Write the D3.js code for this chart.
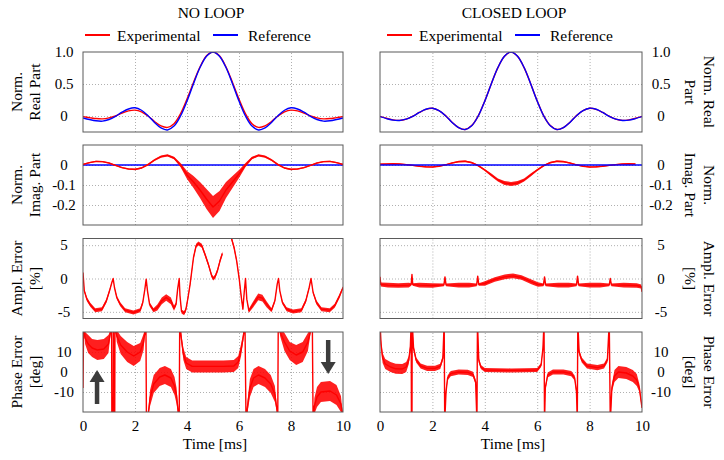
<!DOCTYPE html>
<html><head><meta charset="utf-8">
<script src="https://cdn.jsdelivr.net/npm/d3@7"></script>
<style>
body{margin:0;background:#fff;}
svg text{font-family:"Liberation Serif","Times New Roman",serif;fill:#000;}
</style></head><body>
<svg id="c" width="724" height="460"></svg>
<script>
// ---------- DATA ----------
const columns = ["NO LOOP", "CLOSED LOOP"];
const legendLabels = ["Experimental", "Reference"];
const xTicks = [0, 2, 4, 6, 8, 10];
const yTicksReal = [0, 0.5, 1.0];
const yTicksImag = [0, -0.1, -0.2];
const yTicksAmpl = [5, 0, -5];
const yTicksPhase = [10, 0, -10];
const titlesLeft = [["Norm.", "Real Part"], ["Norm.", "Imag. Part"], ["Ampl. Error", "[%]"], ["Phase Error", "[deg]"]];
const titlesRight = [["Norm. Real", "Part"], ["Norm.", "Imag. Part"], ["Ampl. Error", "[%]"], ["Phase Error", "[deg]"]];

// time grid (ms) for real / imaginary parts
const T = [0,0.25,0.5,0.75,1,1.25,1.5,1.75,2,2.25,2.5,2.75,3,3.25,3.5,3.75,4,4.25,4.5,4.75,5,5.25,5.5,5.75,6,6.25,6.5,6.75,7,7.25,7.5,7.75,8,8.25,8.5,8.75,9,9.25,9.5,9.75,10];

const realRefNL = [-0.03,-0.055,-0.075,-0.08,-0.055,-0.005,0.06,0.11,0.128,0.09,0.005,-0.1,-0.187,-0.218,-0.158,0,0.234,0.505,0.757,0.935,1.0,0.935,0.757,0.505,0.234,0,-0.158,-0.218,-0.187,-0.1,0.005,0.09,0.128,0.11,0.06,-0.005,-0.055,-0.08,-0.075,-0.055,-0.03];
const realExpNL = [-0.01,-0.025,-0.04,-0.045,-0.03,0.0,0.045,0.08,0.092,0.065,0.0,-0.085,-0.155,-0.178,-0.12,0.035,0.265,0.525,0.765,0.94,1.0,0.94,0.765,0.525,0.265,0.035,-0.12,-0.178,-0.155,-0.085,0.0,0.065,0.092,0.08,0.045,0.0,-0.03,-0.045,-0.04,-0.025,-0.01];
const realRefCL = [-0.01,-0.04,-0.065,-0.07,-0.05,-0.005,0.055,0.105,0.122,0.085,0.005,-0.1,-0.182,-0.212,-0.152,0,0.234,0.505,0.757,0.935,1.0,0.935,0.757,0.505,0.234,0,-0.152,-0.212,-0.182,-0.1,0.005,0.085,0.122,0.105,0.055,-0.005,-0.05,-0.07,-0.065,-0.04,-0.01];
const realExpCL = [-0.005,-0.035,-0.06,-0.068,-0.048,-0.003,0.055,0.103,0.12,0.084,0.006,-0.098,-0.18,-0.21,-0.15,0.002,0.236,0.505,0.755,0.933,0.998,0.933,0.755,0.505,0.236,0.002,-0.15,-0.21,-0.18,-0.098,0.006,0.084,0.12,0.103,0.055,-0.003,-0.048,-0.068,-0.06,-0.035,-0.005];

const imagRefT = [0, 10];
const imagRefV = [0, 0];
const imagExpNL = [0.003,0.012,0.018,0.017,0.01,-0.002,-0.013,-0.02,-0.022,-0.015,0.002,0.025,0.042,0.048,0.035,0.0,-0.05,-0.085,-0.125,-0.17,-0.21,-0.18,-0.125,-0.085,-0.045,0.0,0.035,0.048,0.042,0.025,0.002,-0.015,-0.022,-0.02,-0.013,-0.002,0.01,0.017,0.018,0.012,0.003];
const imagNoiseNL = [0.003,0.003,0.003,0.003,0.003,0.003,0.003,0.003,0.004,0.004,0.004,0.005,0.006,0.006,0.006,0.01,0.02,0.03,0.04,0.05,0.055,0.05,0.04,0.03,0.02,0.01,0.006,0.006,0.006,0.005,0.004,0.004,0.004,0.003,0.003,0.003,0.003,0.003,0.003,0.003,0.003];
const imagExpCL = [0.004,0.005,0.006,0.005,0.002,-0.002,-0.006,-0.009,-0.01,-0.006,0.001,0.01,0.017,0.019,0.012,-0.003,-0.025,-0.05,-0.075,-0.09,-0.095,-0.09,-0.075,-0.05,-0.025,-0.003,0.012,0.019,0.017,0.01,0.001,-0.006,-0.01,-0.009,-0.006,-0.002,0.002,0.005,0.006,0.005,null];
const imagNoiseCL = [0.003,0.003,0.003,0.003,0.003,0.003,0.003,0.003,0.003,0.003,0.003,0.003,0.004,0.004,0.004,0.004,0.005,0.007,0.008,0.01,0.01,0.01,0.008,0.007,0.005,0.004,0.004,0.004,0.004,0.003,0.003,0.003,0.003,0.003,0.003,0.003,0.003,0.003,0.003,0.003,0];

// amplitude error [%] : [t, value, noise half-width]
const amplNL = [[0,0.9,0],[0.05,-1.85,0.2],[0.15,-3.1,0.3],[0.28,-3.95,0.3],[0.47,-4.75,0.3],[0.73,-4.6,0.3],[0.9,-3.35,0.3],[1.02,-1.85,0.25],[1.11,-0.6,0.1],[1.16,0,0],[1.21,-1.35,0.1],[1.3,-2.85,0.25],[1.43,-3.85,0.3],[1.62,-4.75,0.3],[1.94,-5.1,0.3],[2.2,-4.75,0.3],[2.3,-3.6,0.3],[2.38,-1.6,0.1],[2.43,-0.1,0],[2.48,-1.85,0.1],[2.56,-3.85,0.3],[2.71,-4.75,0.3],[2.86,-4.35,0.45],[3.03,-3.35,0.5],[3.2,-2.85,0.5],[3.38,-3.35,0.5],[3.5,-4.45,0.4],[3.58,-3.85,0.3],[3.64,-1.6,0.1],[3.7,0,0],[3.73,-2.6,0.1],[3.79,-4.95,0.3],[3.89,-5.2,0.3],[3.96,-4.6,0.3],[4.04,-2.85,0.3],[4.12,-0.85,0.3],[4.25,3.15,0.3],[4.35,4.9,0.3],[4.44,5.25,0.3],[4.57,4.9,0.3],[4.69,3.65,0.3],[4.82,2.15,0.3],[4.95,0.4,0.3],[5.01,0,0.3],[5.08,0.25,0.3],[5.17,1.15,0.3],[5.27,2.65,0.3],[5.36,3.75,0.3],[5.41,null,0],[5.46,6.3,0.3],[5.55,6.8,0.3],[5.65,6.6,0.3],[5.72,5.9,0.3],[5.81,4.65,0.3],[5.91,2.65,0.3],[6.01,-0.1,0.3],[6.09,-2.85,0.3],[6.15,-4.6,0.2],[6.2,-2.1,0.1],[6.25,0,0],[6.3,-3.1,0.1],[6.38,-4.85,0.3],[6.55,-3.85,0.45],[6.74,-2.75,0.5],[6.9,-2.95,0.5],[7.06,-3.85,0.45],[7.25,-4.75,0.3],[7.38,-3.35,0.25],[7.47,-0.85,0.1],[7.52,0,0],[7.57,-1.85,0.1],[7.67,-3.6,0.25],[7.83,-4.6,0.3],[8.08,-4.95,0.3],[8.4,-4.75,0.3],[8.57,-3.35,0.3],[8.7,-1.35,0.2],[8.77,0,0],[8.85,-2.1,0.2],[8.98,-3.6,0.3],[9.17,-4.6,0.3],[9.49,-4.75,0.3],[9.68,-4.1,0.3],[9.87,-2.6,0.3],[10,-1.35,0.2]];
const amplCL = [[0,0.25,0],[0.03,-0.9,0.3],[0.3,-1.0,0.35],[0.7,-1.05,0.35],[1.1,-1.0,0.35],[1.19,-0.9,0.2],[1.22,0.6,0],[1.25,-0.9,0.2],[1.5,-1.0,0.35],[2.0,-1.05,0.35],[2.44,-0.95,0.2],[2.48,0.25,0],[2.52,-0.95,0.2],[3.0,-1.0,0.35],[3.4,-1.0,0.35],[3.69,-0.95,0.2],[3.73,0.35,0],[3.77,-0.9,0.2],[4.0,-0.75,0.35],[4.38,-0.15,0.35],[4.76,0.25,0.35],[5.08,0.4,0.35],[5.4,0.15,0.35],[5.78,-0.5,0.35],[6.03,-0.9,0.35],[6.24,-0.95,0.2],[6.28,0.25,0],[6.32,-0.95,0.2],[6.8,-1.0,0.35],[7.2,-1.0,0.35],[7.5,-0.95,0.2],[7.54,0.35,0],[7.58,-0.95,0.2],[8.0,-1.0,0.35],[8.4,-1.0,0.35],[8.75,-0.95,0.2],[8.79,0.0,0],[8.83,-0.95,0.2],[9.3,-1.0,0.35],[9.8,-1.05,0.35],[9.97,-1.2,0.3],[10,-2.0,0]];

// phase error [deg] : [t, value, noise half-width]
const phaseNL = [[0,-8,1],[0.025,25,0],[0.08,17,3],[0.2,14,4.5],[0.35,12,4.5],[0.55,11,5],[0.8,11.5,5],[0.98,14,4.5],[1.06,20,1],[1.1,25,0],[1.11,-25,0],[1.16,-25,0],[1.17,25,0],[1.19,-25,0],[1.22,-25,0],[1.23,25,0],[1.3,18,3],[1.45,13.5,4.5],[1.7,10,5],[1.95,8,5],[2.2,10,4.5],[2.33,15,4],[2.39,21,1],[2.42,25,0],[2.44,-25,0],[2.5,-22,1],[2.58,-13,4],[2.72,-6,4.5],[2.95,-2.5,4.5],[3.15,-1.5,4.5],[3.38,-3,4.5],[3.52,-7,4.5],[3.6,-12,4],[3.66,-20,1],[3.7,-25,0],[3.72,25,0],[3.78,17,2],[3.86,9,3],[3.97,4.5,3],[4.2,2.8,3],[4.6,2.8,3],[5.0,2.8,3],[5.4,2.8,3],[5.8,3,3],[5.97,5,3],[6.08,11,3],[6.17,18,2],[6.23,25,0],[6.27,-25,0],[6.33,-17,3],[6.42,-8,4.5],[6.56,-3,4.5],[6.75,-1.5,4.5],[7.0,-3,4.5],[7.22,-6,4.5],[7.38,-11,4],[7.46,-19,1],[7.49,-25,0],[7.51,25,0],[7.58,20,2],[7.75,15,4.5],[7.95,10.5,4.5],[8.2,8.5,5],[8.45,10,5],[8.65,15,4.5],[8.76,21,1],[8.82,25,0],[8.85,-25,0],[8.9,-17,4],[9.0,-12.5,5],[9.15,-10,5],[9.5,-9.5,5],[9.75,-11.5,5],[9.92,-16,4],[10,-22,0]];
const phaseCL = [[0,25,0],[0.04,14,2],[0.1,7,2.5],[0.2,4,2.5],[0.4,2.5,2.5],[0.6,1.6,2.5],[0.85,1.5,2.5],[1.0,2.5,2.5],[1.1,6,2],[1.16,13,1],[1.19,25,0],[1.2,-25,0],[1.22,-25,0],[1.23,25,0],[1.28,12,1.3],[1.38,6,1.3],[1.55,3,1.3],[1.8,1.8,1.3],[2.1,1.8,1.3],[2.3,2.8,1.3],[2.4,7,1.3],[2.45,25,0],[2.47,-25,0],[2.52,-10,1.3],[2.58,-3,1.3],[2.7,-0.8,1.3],[3.0,0,1.3],[3.35,-0.2,1.3],[3.55,-1.2,1.3],[3.65,-5,1.3],[3.7,-25,0],[3.72,25,0],[3.77,6,1.3],[3.85,2.5,1],[4.0,1.0,1],[5.0,0.8,1],[6.0,1.0,1],[6.15,3.5,1],[6.22,12,1],[6.26,25,0],[6.28,-25,0],[6.31,-8,1.3],[6.4,-1.5,1.3],[6.6,0,1.3],[7.0,0,1.3],[7.3,-0.8,1.3],[7.43,-3,1.3],[7.5,-10,1.3],[7.53,-25,0],[7.55,25,0],[7.6,10,1.3],[7.7,6,1.3],[7.9,3,1.3],[8.3,2.2,1.3],[8.55,3,1.3],[8.68,6,1.3],[8.75,25,0],[8.79,-25,0],[8.85,-8,2],[8.95,-2,3],[9.1,0,3],[9.4,-0.5,3],[9.65,-2,3],[9.8,-4,3],[9.9,-8,2],[9.97,-15,1],[10,-18,0]];

// arrows in NO LOOP phase panel: [t, from, to] (deg)
const arrowsNL = [[0.54, -16, 1], [9.43, 16, -1]];

// ---------- LAYOUT / STYLE ----------
const RED = "#ff0000", BLUE = "#0000ff";
const cols = [{x0: 83, x1: 343}, {x0: 380, x1: 642}];
const rowTop = [52, 145, 238.5, 332], rowH = 80;
const domains = [[-0.25, 1.0], [-0.3, 0.1], [-6, 6], [-20, 20]];
const yTicks = [yTicksReal, yTicksImag, yTicksAmpl, yTicksPhase];
const fmt1 = d => d === 0 ? "0" : d.toFixed(1);
const yFmt = [fmt1, fmt1, d => String(d), d => String(d)];

const svg = d3.select("#c");
const defs = svg.append("defs");

function fromGrid(tArr, vArr, nArr) {
  return tArr.map((t, i) => ({t, v: vArr[i], n: nArr ? nArr[i] : 0}));
}
function fromRows(rows) { return rows.map(r => ({t: r[0], v: r[1], n: r[2]})); }

const panels = [
  // NO LOOP
  [[{pts: fromGrid(T, realExpNL), color: RED, curve: d3.curveCatmullRom}, {pts: fromGrid(T, realRefNL), color: BLUE, curve: d3.curveCatmullRom}],
   [{pts: fromGrid(imagRefT, imagRefV), color: BLUE, curve: d3.curveLinear}, {pts: fromGrid(T, imagExpNL, imagNoiseNL), color: RED, curve: d3.curveLinear, noisy: true}],
   [{pts: fromRows(amplNL), color: RED, curve: d3.curveLinear, noisy: true}],
   [{pts: fromRows(phaseNL), color: RED, curve: d3.curveLinear, noisy: true}]],
  // CLOSED LOOP
  [[{pts: fromGrid(T, realExpCL), color: RED, curve: d3.curveCatmullRom}, {pts: fromGrid(T, realRefCL), color: BLUE, curve: d3.curveCatmullRom}],
   [{pts: fromGrid(T, imagExpCL, imagNoiseCL), color: RED, curve: d3.curveLinear, noisy: true}, {pts: fromGrid(imagRefT, imagRefV), color: BLUE, curve: d3.curveLinear}],
   [{pts: fromRows(amplCL), color: RED, curve: d3.curveLinear, noisy: true}],
   [{pts: fromRows(phaseCL), color: RED, curve: d3.curveLinear, noisy: true}]]
];

cols.forEach((c, ci) => {
  const x = d3.scaleLinear().domain([0, 10]).range([c.x0, c.x1]);
  const W = c.x1 - c.x0;
  for (let ri = 0; ri < 4; ri++) {
    const top = rowTop[ri];
    const y = d3.scaleLinear().domain(domains[ri]).range([top + rowH, top]);
    const g = svg.append("g");
    const id = `clip${ci}${ri}`;
    defs.append("clipPath").attr("id", id).append("rect")
      .attr("x", c.x0).attr("y", top).attr("width", W).attr("height", rowH);

    // vertical grid
    const gx = g.append("g").attr("transform", `translate(0,${top + rowH})`)
      .call(d3.axisBottom(x).tickValues(xTicks.slice(1, -1)).tickSize(-rowH).tickFormat(""));
    gx.select(".domain").remove();
    gx.selectAll("line").attr("stroke", "#b0b0b0").attr("stroke-dasharray", "1,2");
    // horizontal grid
    const gy = g.append("g").attr("transform", `translate(${c.x0},0)`)
      .call(d3.axisLeft(y).tickValues(yTicks[ri].filter(v => v > domains[ri][0] && v < domains[ri][1] - 1e-9)).tickSize(-W).tickFormat(""));
    gy.select(".domain").remove();
    gy.selectAll("line").attr("stroke", "#b0b0b0").attr("stroke-dasharray", "1,2");

    // series
    const pg = g.append("g").attr("clip-path", `url(#${id})`);
    panels[ci][ri].forEach(s => {
      const def = d => d.v !== null && d.v !== undefined;
      if (s.noisy) {
        pg.append("path").datum(s.pts)
          .attr("d", d3.area().defined(def).curve(s.curve).x(d => x(d.t)).y0(d => y(d.v - d.n)).y1(d => y(d.v + d.n)))
          .attr("fill", s.color).attr("fill-opacity", 0.88);
      }
      pg.append("path").datum(s.pts)
        .attr("d", d3.line().defined(def).curve(s.curve).x(d => x(d.t)).y(d => y(d.v)))
        .attr("fill", "none").attr("stroke", s.color).attr("stroke-width", 1.4).attr("stroke-linejoin", "round");
    });

    // arrows
    if (ci === 0 && ri === 3) {
      arrowsNL.forEach(a => {
        const ax = x(a[0]), y0 = y(a[1]), y1 = y(a[2]);
        const dir = y1 < y0 ? 1 : -1; // 1 = pointing up
        const headLen = 12, headW = 7.5;
        g.append("line").attr("x1", ax).attr("x2", ax).attr("y1", y0).attr("y2", y1 + dir * headLen * 0.8)
          .attr("stroke", "#3c3c3c").attr("stroke-width", 4.5);
        g.append("path").attr("d", `M${ax},${y1} L${ax - headW},${y1 + dir * headLen} L${ax + headW},${y1 + dir * headLen} Z`)
          .attr("fill", "#3c3c3c");
      });
    }

    // frame
    g.append("rect").attr("x", c.x0).attr("y", top).attr("width", W).attr("height", rowH)
      .attr("fill", "none").attr("stroke", "#5a5a5a").attr("stroke-width", 1);

    // y tick labels
    const ax = g.append("g").attr("transform", `translate(${ci === 0 ? c.x0 : c.x1},0)`)
      .call((ci === 0 ? d3.axisLeft(y) : d3.axisRight(y)).tickValues(yTicks[ri]).tickFormat(yFmt[ri]).tickSize(0));
    ax.select(".domain").remove();
    ax.selectAll("text").attr("font-size", 15).attr("font-family", "Liberation Serif")
      .attr("text-anchor", "middle").attr("x", ci === 0 ? -19 : 19);

    // y titles
    const cy = top + rowH / 2;
    const tl = ci === 0 ? titlesLeft[ri] : titlesRight[ri];
    const pos = ci === 0 ? [16, 34] : [709, 690];
    const rot = ci === 0 ? -90 : 90;
    tl.forEach((txt, k) => {
      svg.append("text").attr("transform", `translate(${pos[k]},${cy}) rotate(${rot})`)
        .attr("text-anchor", "middle").attr("dominant-baseline", "central")
        .attr("font-size", 15.5).text(txt);
    });

    // x axis labels on last row
    if (ri === 3) {
      const xa = g.append("g").attr("transform", `translate(0,${top + rowH})`)
        .call(d3.axisBottom(x).tickValues(xTicks).tickSize(0).tickFormat(d3.format("d")));
      xa.select(".domain").remove();
      xa.selectAll("text").attr("font-size", 15).attr("font-family", "Liberation Serif").attr("dy", 0).attr("y", 19);
      svg.append("text").attr("x", (c.x0 + c.x1) / 2 + 2).attr("y", 449).attr("text-anchor", "middle")
        .attr("font-size", 15.5).text("Time [ms]");
    }
  }

  // column header
  svg.append("text").attr("x", ci === 0 ? 211 : 514).attr("y", 18).attr("text-anchor", "middle")
    .attr("font-size", 15.5).text(columns[ci]);
  // legend
  const lx = ci === 0 ? [85, 213] : [387, 515];
  [RED, BLUE].forEach((col, k) => {
    svg.append("line").attr("x1", lx[k]).attr("x2", lx[k] + 25).attr("y1", 35).attr("y2", 35)
      .attr("stroke", col).attr("stroke-width", 2);
    svg.append("text").attr("x", lx[k] + (k === 0 ? 32 : 35)).attr("y", 41).attr("font-size", 15.5).text(legendLabels[k]);
  });
});
</script>
</body></html>
